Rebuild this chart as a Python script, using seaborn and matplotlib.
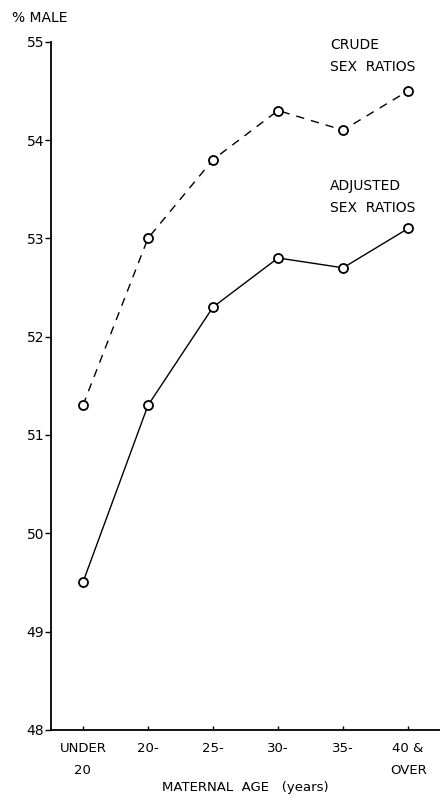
import pandas as pd
import matplotlib
matplotlib.use('Agg')
import matplotlib.pyplot as plt
import seaborn as sns

age_groups = ['UNDER\n20', '20-', '25-', '30-', '35-', '40 &\nOVER']
crude = [51.3, 53.0, 53.8, 54.3, 54.1, 54.5]
adjusted = [49.5, 51.3, 52.3, 52.8, 52.7, 53.1]

df = pd.DataFrame({
    'pos': list(range(len(age_groups))) * 2,
    'ratio': crude + adjusted,
    'series': ['crude'] * len(crude) + ['adjusted'] * len(adjusted),
})

sns.set_style('ticks')
plt.rcParams['font.family'] = ['DejaVu Sans']
plt.rcParams['text.color'] = 'black'
plt.rcParams['xtick.color'] = 'black'
plt.rcParams['ytick.color'] = 'black'
plt.rcParams['axes.labelcolor'] = 'black'

fig = plt.figure(figsize=(4.4, 8.02), dpi=100)
ax = fig.add_axes([0.116, 0.09, 0.884, 0.858])

sns.lineplot(data=df, x='pos', y='ratio', style='series',
             dashes={'crude': (6, 5), 'adjusted': ''},
             markers={'crude': 'o', 'adjusted': 'o'},
             color='black', linewidth=1.0, markersize=6.5,
             markerfacecolor='white', markeredgecolor='black',
             markeredgewidth=1.3, legend=False, ax=ax)

ax.set_xlim(-0.49, 5.49)
ax.set_ylim(48, 55)
ax.set_yticks(range(48, 56))
ax.set_xticks(range(len(age_groups)))
ax.set_xticklabels(age_groups, fontsize=9.5, linespacing=1.9)
ax.tick_params(axis='y', labelsize=10, length=4, width=1, pad=1)
ax.tick_params(axis='x', direction='in', length=3, width=1, pad=9)

ax.set_xlabel('MATERNAL  AGE   (years)', fontsize=9.5, labelpad=3)
ax.set_ylabel('')
sns.despine(ax=ax)
for s in ['left', 'bottom']:
    ax.spines[s].set_linewidth(1.3)
    ax.spines[s].set_color('black')

fig.text(0.028, 0.978, '% MALE', fontsize=10, va='center', ha='left')
fig.text(0.75, 0.930, 'CRUDE\nSEX  RATIOS', fontsize=10, ha='left',
         va='center', linespacing=1.75)
fig.text(0.75, 0.754, 'ADJUSTED\nSEX  RATIOS', fontsize=10, ha='left',
         va='center', linespacing=1.75)

fig.savefig('out.png', dpi=100, facecolor='white')
